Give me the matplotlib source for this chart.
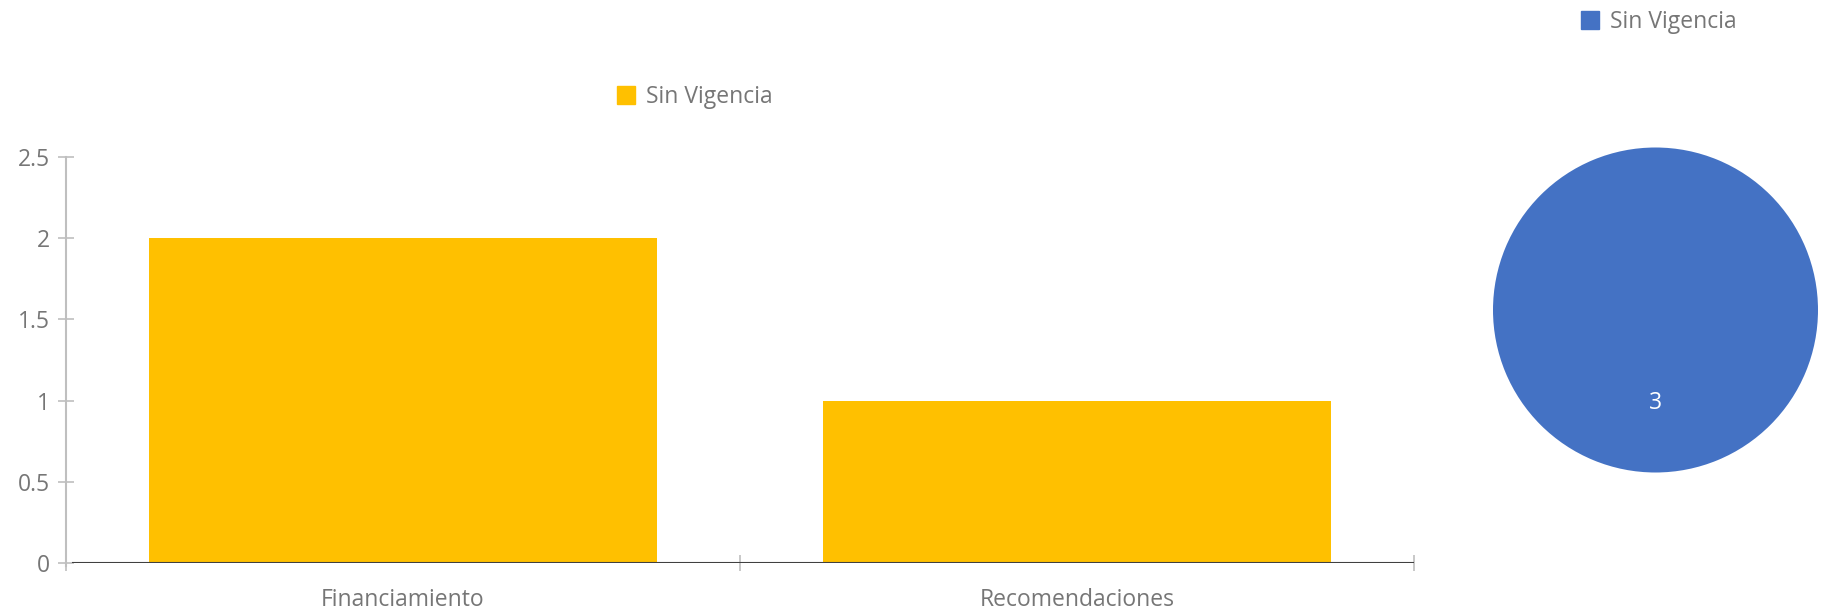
import matplotlib
matplotlib.use("Agg")
import matplotlib.pyplot as plt
from matplotlib.patches import Patch

plt.rcParams['font.family'] = ['Open Sans', 'DejaVu Sans']

categories = ["Financiamiento", "Recomendaciones"]
bar_values = [2, 1]
bar_series = "Sin Vigencia"
pie_values = [3]
pie_series = "Sin Vigencia"
yticks = [0, 0.5, 1, 1.5, 2, 2.5]
ytick_labels = ["0", "0.5", "1", "1.5", "2", "2.5"]

BAR_COLOR = "#FFC000"
PIE_COLOR = "#4472C4"
TEXT = "#767676"
AXIS = "#BFBFBF"
FS = 16.5

W, H = 1825, 609
fig = plt.figure(figsize=(W / 100, H / 100), dpi=100)

# Bar chart
ax = fig.add_axes([66 / W, 1 - 563 / H, (1414 - 66) / W, (563 - 157) / H])
x = list(range(len(categories)))
ax.bar(x, bar_values, width=0.755, color=BAR_COLOR, zorder=2)
ax.set_xlim(-0.5, len(categories) - 0.5)
ax.set_ylim(0, 2.5)
ax.set_yticks(yticks)
ax.set_yticklabels(ytick_labels)
ax.set_xticks([i - 0.5 for i in range(len(categories) + 1)], minor=False)
ax.set_xticklabels([""] * (len(categories) + 1))
ax.set_xticks(x, minor=True)
ax.set_xticklabels(categories, minor=True)
for s in ["top", "right"]:
    ax.spines[s].set_visible(False)
ax.spines["left"].set_color(AXIS)
ax.spines["left"].set_linewidth(1.5)
ax.spines["bottom"].set_visible(False)
ax.axhline(0, xmin=0.005, xmax=1, color="#404040", linewidth=1.5, zorder=3)
ax.tick_params(axis="y", direction="inout", length=11, width=1.2, color=AXIS,
               labelsize=FS, labelcolor=TEXT, pad=6)
ax.tick_params(axis="x", which="major", direction="inout", length=11.5, width=1.2,
               color=AXIS)
ax.tick_params(axis="x", which="minor", length=0, labelsize=FS, labelcolor=TEXT, pad=18)
ax.spines["left"].set_bounds(-0.02, 2.5)

fig.legend(handles=[Patch(color=BAR_COLOR, label=bar_series)],
           loc="center left", bbox_to_anchor=(617 / W, 1 - 97 / H),
           frameon=False, fontsize=FS, labelcolor=TEXT,
           handlelength=0.8, handleheight=0.8, handletextpad=0.45,
           borderpad=0, borderaxespad=0)

# Pie chart
r = 162.5
cx, cy = 1655.5, 310
pax = fig.add_axes([(cx - r) / W, 1 - (cy + r) / H, 2 * r / W, 2 * r / H])
pax.pie(pie_values, colors=[PIE_COLOR], startangle=90, radius=1,
        autopct=lambda p: f"{p * sum(pie_values) / 100:.0f}", pctdistance=0.57,
        textprops=dict(color="white", fontsize=FS),
        wedgeprops=dict(linewidth=0))
pax.set_xlim(-1, 1)
pax.set_ylim(-1, 1)
pax.set_aspect("equal")

fig.legend(handles=[Patch(color=PIE_COLOR, label=pie_series)],
           loc="center left", bbox_to_anchor=(1581 / W, 1 - 22 / H),
           frameon=False, fontsize=FS, labelcolor=TEXT,
           handlelength=0.8, handleheight=0.8, handletextpad=0.45,
           borderpad=0, borderaxespad=0)

fig.savefig("out.png", dpi=100, facecolor="white")
